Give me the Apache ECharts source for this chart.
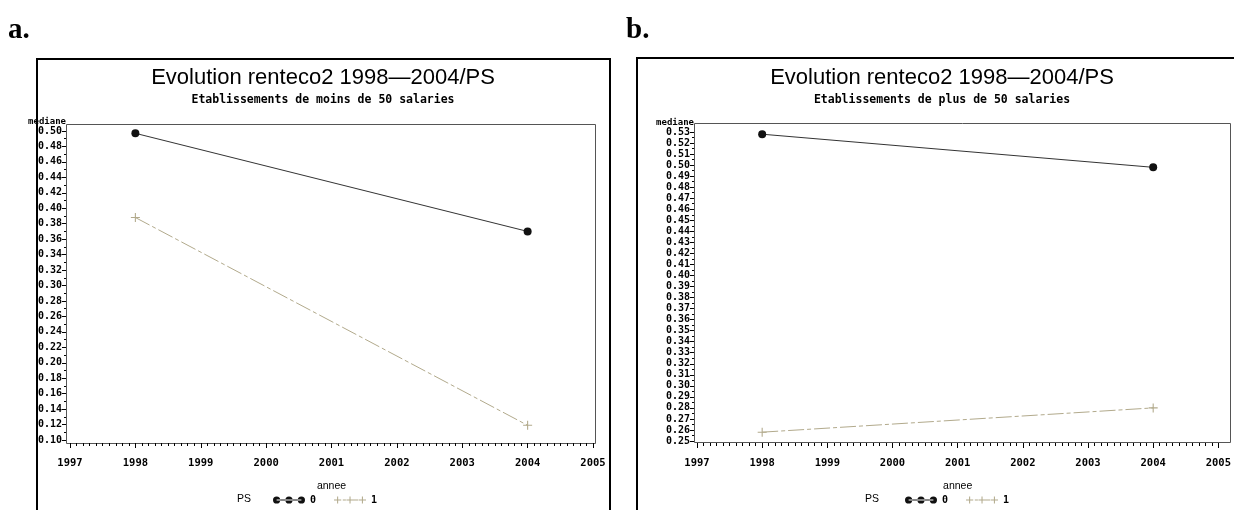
<!DOCTYPE html>
<html>
<head>
<meta charset="utf-8">
<script src="https://cdn.jsdelivr.net/npm/echarts@6/dist/echarts.min.js"></script>
<style>
html,body{margin:0;padding:0;background:#fff;}
#c{width:1234px;height:510px;}
</style>
</head>
<body>
<div id="c"></div>
<script>
// ---- data ----
const years = [1998, 2004];
const seriesNames = ['0', '1'];
const aPS0 = [0.497, 0.370];
const aPS1 = [0.388, 0.119];
const bPS0 = [0.528, 0.498];
const bPS1 = [0.258, 0.280];
const titleText = 'Evolution renteco2 1998\u20142004/PS';
const subtitleA = 'Etablissements de moins de 50 salaries';
const subtitleB = 'Etablissements de plus de 50 salaries';
const yNameText = 'mediane';
const xNameText = 'annee';
const legendTitle = 'PS';

const pair = (ys) => years.map((y, i) => [y, ys[i]]);

const C0 = '#111111';
const C1 = '#b2aa8c';
const MONO = '"DejaVu Sans Mono", monospace';
const SANS = '"Liberation Sans", Arial, sans-serif';
const PLUS = 'path://M0,4.4h10v1.2h-10zM4.4,0h1.2v10h-1.2z';
const ICON0 = 'path://M0.5,4a3.5,3.5 0 1,0 7,0a3.5,3.5 0 1,0 -7,0zM12.5,4a3.5,3.5 0 1,0 7,0a3.5,3.5 0 1,0 -7,0zM24.5,4a3.5,3.5 0 1,0 7,0a3.5,3.5 0 1,0 -7,0zM4,3.5h24v1h-24z';
const ICON1 = 'path://M0.5,3.5h7v1h-7zM3.5,0.5h1v7h-1zM12.5,3.5h7v1h-7zM15.5,0.5h1v7h-1zM24.5,3.5h7v1h-7zM27.5,0.5h1v7h-1zM4,3.6h3v0.8h-3zM9,3.6h3v0.8h-3zM16,3.6h8v0.8h-8z';

function xAxisOpt(gi, offset) {
  return {
    type: 'value', gridIndex: gi, min: 1997, max: 2005, interval: 1, offset: offset,
    axisLine: {show: false},
    axisTick: {show: true, length: 5, lineStyle: {color: '#000', width: 1}},
    minorTick: {show: true, splitNumber: 10, length: 3, lineStyle: {color: '#000', width: 1}},
    splitLine: {show: false}, minorSplitLine: {show: false},
    axisLabel: {margin: 15, color: '#000', fontFamily: MONO, fontWeight: 'bold', fontSize: 10.5,
      formatter: v => String(v)},
    name: xNameText, nameLocation: 'middle', nameGap: 38,
    nameTextStyle: {color: '#000', fontFamily: SANS, fontSize: 10.5}
  };
}
function yAxisOpt(gi, min, max, interval, offset, digits, namePad) {
  return {
    type: 'value', gridIndex: gi, min: min, max: max, interval: interval, offset: offset,
    axisLine: {show: false},
    axisTick: {show: true, length: 4, lineStyle: {color: '#000', width: 1}},
    minorTick: {show: true, splitNumber: 2, length: 2, lineStyle: {color: '#000', width: 1}},
    splitLine: {show: false}, minorSplitLine: {show: false},
    axisLabel: {margin: 4, color: '#000', fontFamily: MONO, fontWeight: 'bold', fontSize: 10,
      formatter: v => v.toFixed(digits)},
    name: yNameText, nameLocation: 'end', nameGap: 3,
    nameTextStyle: {color: '#000', fontFamily: MONO, fontWeight: 'bold', fontSize: 9,
      align: 'right', verticalAlign: 'bottom', padding: namePad}
  };
}
function lineSeries(name, xi, data, isPlus) {
  return {
    type: 'line', name: name, xAxisIndex: xi, yAxisIndex: xi, data: data,
    symbol: isPlus ? PLUS : 'circle', symbolSize: isPlus ? 9 : 8,
    showSymbol: true, animation: false,
    lineStyle: isPlus ? {color: C1, width: 1, type: [16, 3, 4, 3]} : {color: '#333', width: 1},
    itemStyle: {color: isPlus ? C1 : C0},
    emphasis: {disabled: true}
  };
}
function txt(x, y, text, font, align) {
  return {type: 'text', x: x, y: y, silent: true,
    style: {text: text, font: font, fill: '#000', align: align || 'center', textAlign: align || 'center',
      verticalAlign: 'middle', textVerticalAlign: 'middle'}};
}
function legendOpt(left) {
  return {data: [{name: seriesNames[0], icon: ICON0}, {name: seriesNames[1], icon: ICON1}],
    left: left, top: 490, itemWidth: 32, itemHeight: 8, itemGap: 18, selectedMode: false,
    textStyle: {fontFamily: MONO, fontWeight: 'bold', fontSize: 10, color: '#000'}};
}

const chart = echarts.init(document.getElementById('c'), null, {renderer: 'canvas'});
chart.setOption({
  animation: false,
  backgroundColor: '#fff',
  grid: [
    {left: 70, top: 131, width: 523, height: 309},
    {left: 697, top: 132, width: 530, height: 309}
  ],
  xAxis: [xAxisOpt(0, 3), xAxisOpt(1, 2)],
  yAxis: [
    yAxisOpt(0, 0.10, 0.50, 0.02, 4, 2, [0, 0, 0, 4]),
    yAxisOpt(1, 0.25, 0.53, 0.01, 3, 2, [0, 0, 0, 4])
  ],
  legend: [legendOpt(268), legendOpt(900)],
  series: [
    lineSeries(seriesNames[0], 0, pair(aPS0), false),
    lineSeries(seriesNames[1], 0, pair(aPS1), true),
    lineSeries(seriesNames[0], 1, pair(bPS0), false),
    lineSeries(seriesNames[1], 1, pair(bPS1), true)
  ],
  graphic: [
    // panel borders
    {type: 'rect', silent: true, shape: {x: 37, y: 59, width: 573, height: 470},
     style: {fill: 'none', stroke: '#000', lineWidth: 2}},
    {type: 'rect', silent: true, shape: {x: 637, y: 58, width: 620, height: 470},
     style: {fill: 'none', stroke: '#000', lineWidth: 2}},
    // plot frames
    {type: 'rect', silent: true, shape: {x: 66.5, y: 124.5, width: 529, height: 319},
     style: {fill: 'none', stroke: '#555', lineWidth: 1}},
    {type: 'rect', silent: true, shape: {x: 694.5, y: 123.5, width: 536, height: 319},
     style: {fill: 'none', stroke: '#555', lineWidth: 1}},
    // panel letters
    txt(8, 31, 'a.', 'bold 29px "Liberation Serif", serif', 'left'),
    txt(626, 31, 'b.', 'bold 29px "Liberation Serif", serif', 'left'),
    // titles
    txt(323, 78, titleText, '22px ' + SANS),
    txt(942, 78, titleText, '22px ' + SANS),
    txt(323, 100, subtitleA, 'bold 11.5px ' + MONO),
    txt(942, 100, subtitleB, 'bold 11.5px ' + MONO),
    // legend headers
    txt(244, 499, legendTitle, '10.5px ' + SANS),
    txt(872, 499, legendTitle, '10.5px ' + SANS)
  ]
});
</script>
</body>
</html>
